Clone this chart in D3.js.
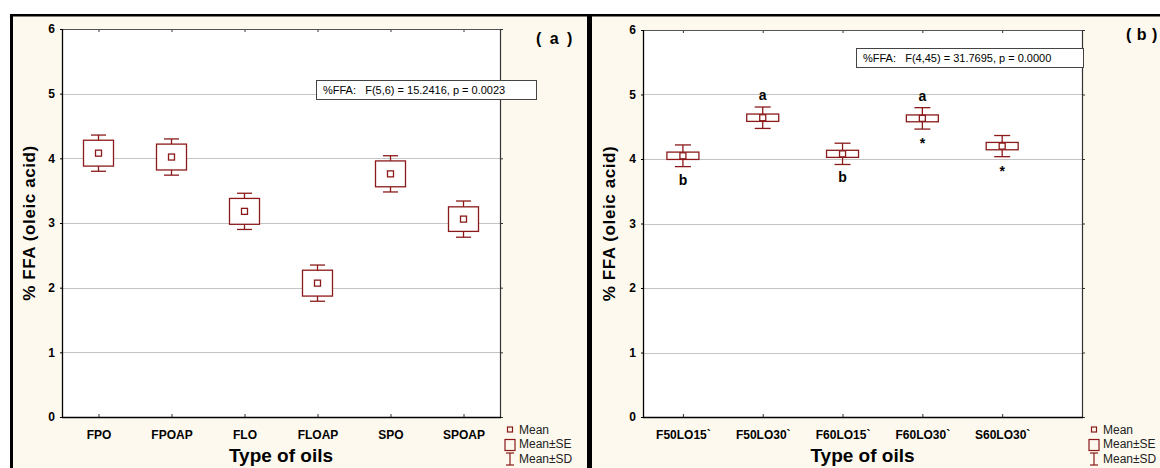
<!DOCTYPE html>
<html>
<head>
<meta charset="utf-8">
<script src="https://cdn.jsdelivr.net/npm/d3@7"></script>
<style>
  html, body { margin: 0; padding: 0; background: #ffffff; }
  svg { display: block; font-family: "Liberation Sans", Arial, sans-serif; }
</style>
</head>
<body>
<svg id="chart" width="1160" height="468"></svg>
<script>
// ---- data --------------------------------------------------------------
const yTicks = [0, 1, 2, 3, 4, 5, 6];

// panel (a)
const oilsA = ["FPO", "FPOAP", "FLO", "FLOAP", "SPO", "SPOAP"];
const meanA = [4.08, 4.02, 3.18, 2.07, 3.76, 3.06];
const seA   = [0.20, 0.20, 0.20, 0.20, 0.20, 0.19];
const sdA   = [0.28, 0.28, 0.28, 0.28, 0.28, 0.28];
const statA = "%FFA:   F(5,6) = 15.2416, p = 0.0023";

// panel (b)
const oilsB = ["F50LO15`", "F50LO30`", "F60LO15`", "F60LO30`", "S60LO30`"];
const meanB = [4.05, 4.64, 4.08, 4.63, 4.20];
const seB   = [0.057, 0.057, 0.055, 0.053, 0.057];
const sdB   = [0.168, 0.166, 0.165, 0.166, 0.164];
const letterAboveB = ["", "a", "", "a", ""];
const letterBelowB = ["b", "", "b", "*", "*"];
const statB = "%FFA:   F(4,45) = 31.7695, p = 0.0000";

const legendItems = ["Mean", "Mean\u00b1SE", "Mean\u00b1SD"];

// ---- styling -----------------------------------------------------------
const RED = "#8b1a1a";
const CREAM = "#fdf9ee";
const FONT = "Liberation Sans, Arial, sans-serif";

const svg = d3.select("#chart");

// figure background and frame
svg.append("rect").attr("x", 10).attr("y", 14).attr("width", 1150).attr("height", 454).attr("fill", CREAM);
svg.append("line").attr("x1", 10).attr("x2", 1160).attr("y1", 15.3).attr("y2", 15.3)
  .attr("stroke", "#000").attr("stroke-width", 2.6);
svg.append("line").attr("x1", 11.5).attr("x2", 11.5).attr("y1", 14).attr("y2", 468)
  .attr("stroke", "#000").attr("stroke-width", 3);
svg.append("line").attr("x1", 589.5).attr("x2", 589.5).attr("y1", 14).attr("y2", 468)
  .attr("stroke", "#000").attr("stroke-width", 5);

function drawPanel(cfg) {
  const { left, right, top, bottom, cats, mean, se, sd, slots } = cfg;
  const g = svg.append("g");

  const x = d3.scaleLinear().domain([0.5, slots + 0.5]).range([left, right]);
  const y = d3.scaleLinear().domain([0, 6]).range([bottom, top]);
  const idx = cats.map((c, i) => i + 1);

  // plot area
  g.append("rect").attr("x", left).attr("y", top)
    .attr("width", right - left).attr("height", bottom - top).attr("fill", "#fff");

  // horizontal grid
  g.append("g").selectAll("line").data(yTicks.filter(t => t > 0 && t < 6)).join("line")
    .attr("x1", left).attr("x2", right)
    .attr("y1", d => Math.round(y(d)) + 0.5).attr("y2", d => Math.round(y(d)) + 0.5)
    .attr("stroke", "#c4c4c4").attr("stroke-width", 1);

  // left axis (labels only, frame line drawn separately)
  const ax = g.append("g").attr("transform", `translate(${left},0)`)
    .call(d3.axisLeft(y).tickValues(yTicks).tickFormat(d3.format("d")).tickSize(2).tickPadding(5));
  ax.select(".domain").remove();
  ax.selectAll("line").attr("stroke", "#000");
  ax.selectAll("text").attr("font-size", 12).attr("font-weight", "bold").attr("fill", "#000")
    .attr("font-family", FONT);

  // right axis ticks (outward)
  const ar = g.append("g").attr("transform", `translate(${right},0)`)
    .call(d3.axisRight(y).tickValues(yTicks).tickFormat("").tickSize(3));
  ar.select(".domain").remove();
  ar.selectAll("line").attr("stroke", "#333");

  // bottom axis: categories, ticks pointing inward
  const ab = g.append("g").attr("transform", `translate(0,${bottom})`)
    .call(d3.axisBottom(x).tickValues(idx).tickFormat((d, i) => cats[i]).tickSizeInner(-3).tickSizeOuter(0).tickPadding(13));
  ab.select(".domain").remove();
  ab.selectAll("line").attr("stroke", "#333");
  ab.selectAll("text").attr("font-size", 12).attr("font-weight", "bold").attr("fill", "#000")
    .attr("font-family", FONT);

  // top axis ticks (inward)
  const at = g.append("g").attr("transform", `translate(0,${top})`)
    .call(d3.axisTop(x).tickValues(idx).tickFormat("").tickSizeInner(-3).tickSizeOuter(0));
  at.select(".domain").remove();
  at.selectAll("line").attr("stroke", "#333");

  // frame
  g.append("line").attr("x1", left).attr("x2", right).attr("y1", top + 0.5).attr("y2", top + 0.5)
    .attr("stroke", "#555").attr("stroke-width", 1);
  g.append("line").attr("x1", right + 0.5).attr("x2", right + 0.5).attr("y1", top).attr("y2", bottom)
    .attr("stroke", "#333").attr("stroke-width", 1.2);
  g.append("line").attr("x1", left + 0.5).attr("x2", left + 0.5).attr("y1", top).attr("y2", bottom + 0.5)
    .attr("stroke", "#000").attr("stroke-width", 1.3);
  g.append("line").attr("x1", left).attr("x2", right + 1).attr("y1", bottom + 0.5).attr("y2", bottom + 0.5)
    .attr("stroke", "#000").attr("stroke-width", 1.3);

  // whiskers (mean ± SD) and boxes (mean ± SE)
  const items = g.append("g").selectAll("g").data(idx).join("g");
  const capW = cfg.capHalf, boxW = cfg.boxHalf;
  items.append("line")
    .attr("x1", (d) => x(d)).attr("x2", (d) => x(d))
    .attr("y1", (d, i) => y(mean[i] + sd[i])).attr("y2", (d, i) => y(mean[i] - sd[i]))
    .attr("stroke", RED).attr("stroke-width", 1.3);
  items.append("line")
    .attr("x1", d => x(d) - capW).attr("x2", d => x(d) + capW)
    .attr("y1", (d, i) => y(mean[i] + sd[i])).attr("y2", (d, i) => y(mean[i] + sd[i]))
    .attr("stroke", RED).attr("stroke-width", 1.3);
  items.append("line")
    .attr("x1", d => x(d) - capW).attr("x2", d => x(d) + capW)
    .attr("y1", (d, i) => y(mean[i] - sd[i])).attr("y2", (d, i) => y(mean[i] - sd[i]))
    .attr("stroke", RED).attr("stroke-width", 1.3);
  items.append("rect")
    .attr("x", d => x(d) - boxW).attr("width", boxW * 2)
    .attr("y", (d, i) => y(mean[i] + se[i]))
    .attr("height", (d, i) => y(mean[i] - se[i]) - y(mean[i] + se[i]))
    .attr("fill", "#fff").attr("stroke", RED).attr("stroke-width", 1.3);
  items.append("rect")
    .attr("x", d => x(d) - 3).attr("width", 6)
    .attr("y", (d, i) => y(mean[i]) - 3).attr("height", 6)
    .attr("fill", "#fff").attr("stroke", RED).attr("stroke-width", 1.3);

  // significance letters
  if (cfg.above) {
    items.append("text")
      .attr("x", d => x(d)).attr("y", (d, i) => y(mean[i] + sd[i]) - 7)
      .attr("text-anchor", "middle").attr("font-size", 14).attr("font-weight", "bold")
      .text((d, i) => cfg.above[i]);
  }
  if (cfg.below) {
    items.append("text")
      .attr("x", d => x(d)).attr("y", (d, i) => y(mean[i] - sd[i]) + (cfg.below[i] === "*" ? 19 : 18))
      .attr("text-anchor", "middle").attr("font-size", 14).attr("font-weight", "bold")
      .text((d, i) => cfg.below[i]);
  }

  // statistics box
  const sb = cfg.statBox;
  g.append("rect").attr("x", sb.x + 0.5).attr("y", sb.y + 0.5).attr("width", sb.w).attr("height", 19)
    .attr("fill", "#fff").attr("stroke", "#444").attr("stroke-width", 1);
  g.append("text").attr("x", sb.x + 7).attr("y", sb.y + 14)
    .attr("font-size", 11).attr("fill", "#000").style("white-space", "pre")
    .text(cfg.stat);

  // panel tag
  g.append("text").attr("x", cfg.tag.x).attr("y", cfg.tag.y)
    .attr("font-size", 16).attr("font-weight", "bold").attr("letter-spacing", cfg.tag.spacing)
    .style("white-space", "pre")
    .text(cfg.tag.text);

  // axis titles
  g.append("text")
    .attr("transform", `translate(${cfg.yTitleX},${(top + bottom) / 2}) rotate(-90)`)
    .attr("text-anchor", "middle").attr("font-size", 17).attr("font-weight", "bold")
    .attr("letter-spacing", 0.6)
    .text("% FFA (oleic acid)");
  g.append("text")
    .attr("x", (left + right) / 2).attr("y", 462)
    .attr("text-anchor", "middle").attr("font-size", 19).attr("font-weight", "bold")
    .text("Type of oils");

  // legend
  const lx = cfg.legendX;
  const lg = g.append("g");
  lg.append("rect").attr("x", lx - 2.5).attr("y", 427).attr("width", 5).attr("height", 5)
    .attr("fill", "none").attr("stroke", RED).attr("stroke-width", 1.2);
  lg.append("rect").attr("x", lx - 5).attr("y", 439.5).attr("width", 10).attr("height", 11)
    .attr("fill", "none").attr("stroke", RED).attr("stroke-width", 1.2);
  lg.append("line").attr("x1", lx).attr("x2", lx).attr("y1", 453).attr("y2", 465).attr("stroke", RED).attr("stroke-width", 1.2);
  lg.append("line").attr("x1", lx - 4).attr("x2", lx + 4).attr("y1", 453).attr("y2", 453).attr("stroke", RED).attr("stroke-width", 1.2);
  lg.append("line").attr("x1", lx - 4).attr("x2", lx + 4).attr("y1", 465).attr("y2", 465).attr("stroke", RED).attr("stroke-width", 1.2);
  lg.selectAll("text").data(legendItems).join("text")
    .attr("x", lx + 9).attr("y", (d, i) => 434 + i * 14.3)
    .attr("font-size", 12).attr("fill", "#222")
    .text(d => d);
}

drawPanel({
  left: 62, right: 500, top: 29, bottom: 417, slots: 6,
  cats: oilsA, mean: meanA, se: seA, sd: sdA,
  boxHalf: 15, capHalf: 7.5,
  stat: statA, statBox: { x: 316, y: 80, w: 220 },
  tag: { text: "( a )", x: 536, y: 43.5, spacing: 2 },
  yTitleX: 35, legendX: 510
});

drawPanel({
  left: 643, right: 1082, top: 30, bottom: 417, slots: 5.5,
  cats: oilsB, mean: meanB, se: seB, sd: sdB,
  boxHalf: 16, capHalf: 8,
  above: letterAboveB, below: letterBelowB,
  stat: statB, statBox: { x: 856, y: 48, w: 227 },
  tag: { text: "( b )", x: 1126, y: 40, spacing: 0.5 },
  yTitleX: 615, legendX: 1094
});
</script>
</body>
</html>
